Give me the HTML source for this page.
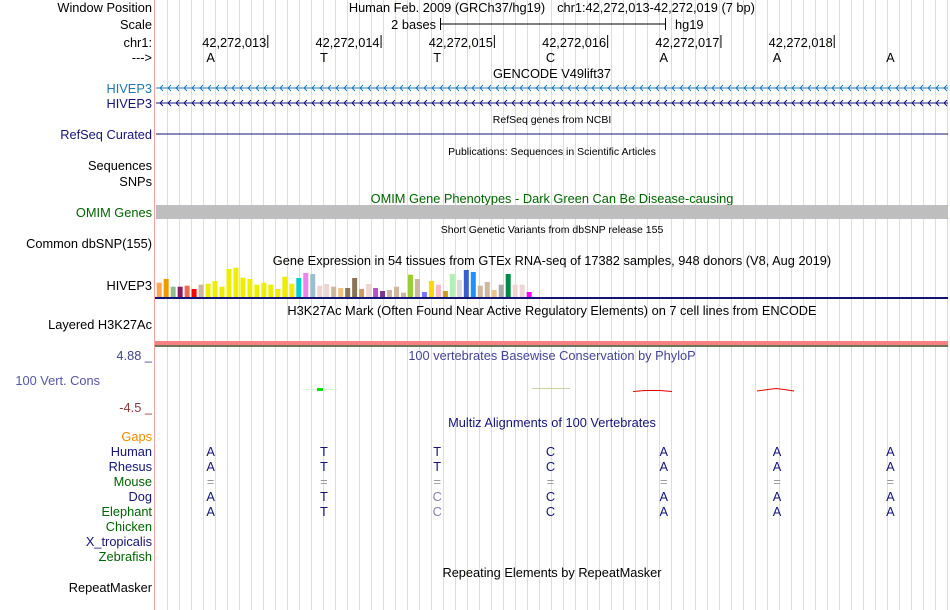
<!DOCTYPE html>
<html><head><meta charset="utf-8">
<style>
html,body{margin:0;padding:0;background:#fff;}
svg{display:block;font-family:"Liberation Sans",Arial,sans-serif;}
</style></head>
<body>
<svg id="chart" width="950" height="610" viewBox="0 0 950 610" xmlns="http://www.w3.org/2000/svg">
<g id="grid"></g>
<line x1="154.5" y1="0" x2="154.5" y2="610" stroke="#f4a0a0" stroke-width="1"/>
<g font-size="12.8" fill="#000" text-anchor="end">
<text x="152" y="12">Window Position</text>
<text x="152" y="29">Scale</text>
<text x="152" y="47">chr1:</text>
<text x="152" y="62">---&gt;</text>
<text x="152" y="93" fill="#1f78b4">HIVEP3</text>
<text x="152" y="108" fill="#141478">HIVEP3</text>
<text x="152" y="139" fill="#141478">RefSeq Curated</text>
<text x="152" y="170">Sequences</text>
<text x="152" y="186">SNPs</text>
<text x="152" y="217" fill="#006400">OMIM Genes</text>
<text x="152" y="248">Common dbSNP(155)</text>
<text x="152" y="290">HIVEP3</text>
<text x="152" y="329">Layered H3K27Ac</text>
<text x="152" y="360" fill="#444488">4.88 _</text>
<text x="100" y="385" fill="#5555aa">100 Vert. Cons</text>
<text x="152" y="412" fill="#8b3a3a">-4.5 _</text>
<text x="152" y="441" fill="#f08c00">Gaps</text>
<text x="152" y="456" fill="#141478">Human</text>
<text x="152" y="471" fill="#141478">Rhesus</text>
<text x="152" y="486" fill="#006400">Mouse</text>
<text x="152" y="501" fill="#141478">Dog</text>
<text x="152" y="516" fill="#006400">Elephant</text>
<text x="152" y="531" fill="#006400">Chicken</text>
<text x="152" y="546" fill="#141478">X_tropicalis</text>
<text x="152" y="561" fill="#006400">Zebrafish</text>
<text x="152" y="592">RepeatMasker</text>
</g>
<g font-size="12.8" text-anchor="middle">
<text x="447" y="12">Human Feb. 2009 (GRCh37/hg19)</text>
<text x="656" y="12">chr1:42,272,013-42,272,019 (7 bp)</text>
<text x="552" y="78">GENCODE V49lift37</text>
<text x="552" y="123" font-size="10.5">RefSeq genes from NCBI</text>
<text x="552" y="155" font-size="10.5">Publications: Sequences in Scientific Articles</text>
<text x="552" y="203" fill="#006400">OMIM Gene Phenotypes - Dark Green Can Be Disease-causing</text>
<text x="552" y="233" font-size="10.5">Short Genetic Variants from dbSNP release 155</text>
<text x="552" y="265">Gene Expression in 54 tissues from GTEx RNA-seq of 17382 samples, 948 donors (V8, Aug 2019)</text>
<text x="552" y="315">H3K27Ac Mark (Often Found Near Active Regulatory Elements) on 7 cell lines from ENCODE</text>
<text x="552" y="360" fill="#444499">100 vertebrates Basewise Conservation by PhyloP</text>
<text x="552" y="427" fill="#141478">Multiz Alignments of 100 Vertebrates</text>
<text x="552" y="577">Repeating Elements by RepeatMasker</text>
</g>
<g>
<text x="436" y="29" font-size="12.8" text-anchor="end">2 bases</text>
<line x1="440" y1="24" x2="665" y2="24" stroke="#000"/>
<line x1="440.5" y1="18" x2="440.5" y2="30" stroke="#000"/>
<line x1="665.5" y1="18" x2="665.5" y2="30" stroke="#000"/>
<text x="675" y="29" font-size="12.8">hg19</text>
</g>
<g id="ruler" font-size="12.8"></g>
<g id="bases" font-size="12.8" text-anchor="middle"></g>
<g id="genes"></g>
<rect x="156" y="205" width="792" height="14" fill="#bebebe"/>
<g id="gtex"></g>
<line x1="155" y1="298" x2="948" y2="298" stroke="#141478" stroke-width="2"/>
<rect x="155" y="341" width="793" height="4" fill="#f88080"/>
<line x1="155" y1="346" x2="948" y2="346" stroke="#3a4a20" stroke-width="1.5"/>
<g>
<line x1="303" y1="389.5" x2="337" y2="389.5" stroke="#d8f4d8" stroke-width="1"/>
<rect x="317" y="388" width="6" height="3" fill="#00e000"/>
<line x1="532" y1="388.5" x2="570" y2="388.5" stroke="#d0d0a8" stroke-width="1"/>
<path d="M633 391.5 L645 390.5 L660 390.5 L672 391.5" stroke="#e80000" fill="none" stroke-width="1"/>
<path d="M757 391 L768 389.5 L776 388.5 L784 389.5 L794 391" stroke="#e80000" fill="none" stroke-width="1"/>
</g>
<g id="align" font-size="12.8" text-anchor="middle"></g>
</svg>
<script>
const NS = "http://www.w3.org/2000/svg";
// data
const bases = ["A","T","T","C","A","A","A"];
const positions = ["42,272,013","42,272,014","42,272,015","42,272,016","42,272,017","42,272,018"];
const rhesus = ["A","T","T","C","A","A","A"];
const mouse = ["=","=","=","=","=","=","="];
const dog = ["A","T","C","C","A","A","A"];
const elephant = ["A","T","C","C","A","A","A"];
const gtexValues = [14.3,18,10.3,10.3,11.3,8,12.3,13.3,16,10.3,28,29.3,19.3,18,12.3,14.3,12.3,8,20.3,13.3,19,24,23,11.3,13,10.3,9,9,19,8,13,9,6,7,10.3,4.3,22.3,18,5,16,12.3,6,23,17,27,25,11.3,15,7,12.3,23,12.3,12.3,5];
const gtexColors = ["#FFA54F","#EE9A00","#8FBC8F","#8B1C62","#EE6A50","#FF0000","#CDB79E","#EEEE00","#EEEE00","#EEEE00","#EEEE00","#EEEE00","#EEEE00","#EEEE00","#EEEE00","#EEEE00","#EEEE00","#EEEE00","#EEEE00","#EEEE00","#00CED1","#EE82EE","#9AC0CD","#EED5D2","#EED5D2","#CDB79E","#F4C17F","#8B7355","#8B7355","#CD9B5F","#EED5D2","#B452CD","#7A378B","#CDB79E","#CDB79E","#CDB79E","#9ACD32","#CDB79E","#7777FF","#FFD700","#FFB6C1","#CD9B1D","#B4EEB4","#D9D9D9","#3A5FCD","#1E90FF","#CDB79E","#CDB79E","#EEC591","#AAAAAA","#008B45","#EED5D2","#EED5D2","#FF00FF"];

// axes
const x0 = 155, x1 = 948;
const baseW = (x1 - x0) / bases.length;
const xBase = i => x0 + baseW * (i + 0.5) - 1;
const xTick = i => x0 + baseW * (i + 1);
const gtexBottom = 297;
const yG = v => gtexBottom - v;
const xG = i => 156.7 + i * 6.98;

function mk(tag, attrs, parent, txt){
  const e = document.createElementNS(NS, tag);
  for (const k in attrs) e.setAttribute(k, attrs[k]);
  if (txt !== undefined) e.textContent = txt;
  parent.appendChild(e);
  return e;
}
// grid
const grid = document.getElementById('grid');
for (let x = 167; x < 950; x += 12) {
  const l = mk('line', {x1:x+0.5, y1:0, x2:x+0.5, y2:610, stroke:'#ddd8f6', 'stroke-width':1}, grid);
  
  
}
// ruler
const ruler = document.getElementById('ruler');
positions.forEach((p, i) => {
  const x = xTick(i);
  const t = mk('text', {x:x-2, y:47, 'text-anchor':'end'}, ruler, p);
  
  
  const l = mk('line', {x1:x-0.5, y1:35, x2:x-0.5, y2:48, stroke:'#000'}, ruler);
  
  
});
// bases
const bg = document.getElementById('bases');
bases.forEach((b, i) => {
  const t = mk('text', {x:xBase(i), y:62}, bg, b);
  
  
});
// gene lines with chevrons
const genes = document.getElementById('genes');
[[88,'#1f78b4'],[103,'#141478']].forEach(([y,c]) => {
  const l = mk('line', {x1:156, y1:y, x2:948, y2:y, stroke:c}, genes);
  
  
  let d = '';
  for (let x = 160; x < 946; x += 8) d += `M${x+3} ${y-3} L${x} ${y} L${x+3} ${y+3} `;
  const p = mk('path', {d:d, stroke:c, fill:'none', 'stroke-width':1}, genes);
  
  
});
const rl = mk('line', {x1:156, y1:134, x2:948, y2:134, stroke:'#141478'}, genes);


// gtex bars
const gt = document.getElementById('gtex');
gtexValues.forEach((v, i) => {
  const r = mk('rect', {x:xG(i), y:yG(v), width:5, height:v, fill:gtexColors[i]}, gt);
  
  
});
// alignment
const al = document.getElementById('align');
const rows = [[bases,456,'#141478'],[rhesus,471,'#141478'],[mouse,486,'#999999'],[dog,501,'#141478'],[elephant,516,'#141478']];
rows.forEach(([arr,y,c], r) => {
  arr.forEach((b, i) => {
    let col = c;
    if (r >= 3 && b !== bases[i]) col = '#8080b0';
    const t = mk('text', {x:xBase(i), y:y, fill:col}, al, b);
    
    
  });
});
</script>
</body></html>
